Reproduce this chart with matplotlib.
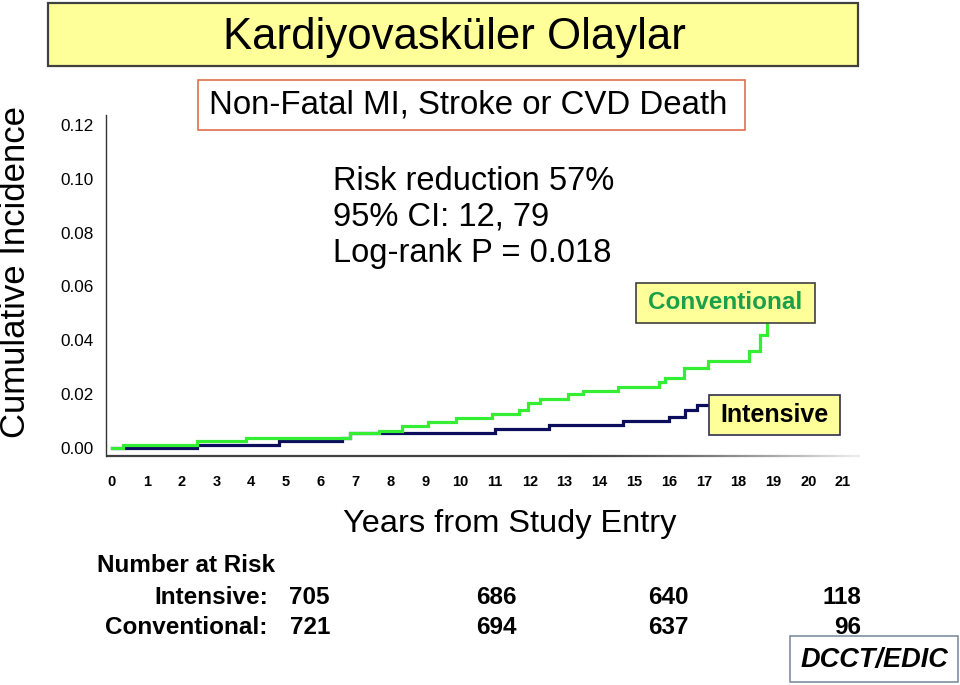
import numpy as np
import matplotlib.pyplot as plt
from matplotlib.patches import Rectangle
from matplotlib.collections import LineCollection

plt.rcParams["font.family"] = ["Liberation Sans", "DejaVu Sans"]

# step curves (years, cumulative incidence)
conv_t = [0, 0.33, 2.43, 3.84, 6.84, 7.68, 8.32, 9.09, 9.87, 10.91, 11.68, 11.96,
          12.3, 13.11, 13.54, 14.55, 15.7, 15.89, 16.42, 17.13, 18.31, 18.62, 18.81]
conv_v = [0, 0.0011, 0.0026, 0.0037, 0.0055, 0.0064, 0.0082, 0.0098, 0.011, 0.0126,
          0.0141, 0.0168, 0.0182, 0.0199, 0.0212, 0.0228, 0.0244, 0.0261, 0.0296,
          0.0324, 0.0362, 0.042, 0.05]

int_t = [0, 2.43, 4.8, 6.6, 6.84, 11.0, 12.54, 14.67, 15.99, 16.47, 16.8, 17.18]
int_v = [0, 0.001, 0.0026, 0.0036, 0.0054, 0.0069, 0.0084, 0.01, 0.0117, 0.0141,
         0.016, 0.0185]

yticks = [0.00, 0.02, 0.04, 0.06, 0.08, 0.10, 0.12]
xticks = list(range(0, 22))

risk_intensive = [705, 686, 640, 118]
risk_conventional = [721, 694, 637, 96]

stats_text = "Risk reduction 57%\n95% CI: 12, 79\nLog-rank P = 0.018"

W, H = 960, 685


def fx(x):
    return x / W


def fy(y):
    return 1 - y / H


def box(fig, x0, y0, x1, y1, fc, ec, lw=1.0, z=2):
    r = Rectangle((fx(x0), fy(y1)), fx(x1) - fx(x0), fy(y0) - fy(y1),
                  transform=fig.transFigure, facecolor=fc, edgecolor=ec,
                  linewidth=lw, zorder=z)
    fig.add_artist(r)


fig = plt.figure(figsize=(9.6, 6.85), dpi=100)
ax = fig.add_axes([fx(106), fy(456), fx(860) - fx(106), fy(115) - fy(456)])

ax.plot(int_t, int_v, drawstyle="steps-post", color="#0d0d5e", lw=2.3,
        solid_joinstyle="miter")
ax.plot(conv_t, conv_v, drawstyle="steps-post", color="#33ee33", lw=2.3,
        solid_joinstyle="miter")

ax.set_xlim(-6 / 34.81, 748 / 34.81)
ax.set_ylim(-8 / 2692, 333 / 2692)
ax.set_xticks(xticks)
ax.set_xticklabels([str(t) for t in xticks], fontsize=10.5, fontweight="bold")
ax.set_yticks(yticks)
ax.set_yticklabels(["%.2f" % v for v in yticks], fontsize=12.3)
ax.tick_params(axis="x", length=0, pad=13.5)
ax.tick_params(axis="y", length=0, pad=9)

for s in ["top", "right", "bottom"]:
    ax.spines[s].set_visible(False)
ax.spines["left"].set_color("#333333")
ax.spines["left"].set_linewidth(1.0)

# fading bottom axis line
n = 200
xs = np.linspace(0, 1, n + 1)
segs = [[(xs[i], 0), (xs[i + 1], 0)] for i in range(n)]
shade = np.clip(0.25 + 0.7 * np.maximum(0, (xs[:-1] - 0.6) / 0.4) ** 1.5, 0, 0.92)
lc = LineCollection(segs, colors=[(s, s, s) for s in shade], linewidths=1.6,
                    transform=ax.transAxes, clip_on=False)
ax.add_collection(lc)

# title boxes
box(fig, 48, 3, 858, 66, "#ffff99", "#404040", lw=1.6)
fig.text(fx(454), fy(37), "Kardiyovasküler Olaylar", fontsize=31.5,
         ha="center", va="center", zorder=3)
box(fig, 198, 80, 745, 130, "white", "#e0704f", lw=1.2)
fig.text(fx(468), fy(105), "Non-Fatal MI, Stroke or CVD Death", fontsize=23.8,
         ha="center", va="center", zorder=3)

fig.text(fx(333), fy(166), stats_text, fontsize=23.5, ha="left", va="top",
         linespacing=1.2)

fig.text(fx(16), fy(272), "Cumulative Incidence", fontsize=25, rotation=90,
         ha="center", va="center")
fig.text(fx(510), fy(524), "Years from Study Entry", fontsize=23.4,
         ha="center", va="center")

# curve labels
box(fig, 636, 283, 815, 323, "#ffff99", "#404040", lw=1.2)
fig.text(fx(725), fy(303), "Conventional", fontsize=17.5, fontweight="bold",
         color="#1aa04a", ha="center", va="center", zorder=3)
box(fig, 709, 395, 840, 435, "#ffff99", "#303050", lw=1.2)
fig.text(fx(774), fy(415), "Intensive", fontsize=18, fontweight="bold",
         color="black", ha="center", va="center", zorder=3)

# number at risk table
fig.text(fx(97), fy(566), "Number at Risk", fontsize=17.5, fontweight="bold",
         ha="left", va="center")
fig.text(fx(268), fy(597), "Intensive:", fontsize=17.5, fontweight="bold",
         ha="right", va="center")
fig.text(fx(268), fy(627), "Conventional:", fontsize=17.5, fontweight="bold",
         ha="right", va="center")
col_right = [330, 517, 689, 861]
for xr, a, b in zip(col_right, risk_intensive, risk_conventional):
    fig.text(fx(xr), fy(597), str(a), fontsize=17.5, fontweight="bold",
             ha="right", va="center")
    fig.text(fx(xr), fy(627), str(b), fontsize=17.5, fontweight="bold",
             ha="right", va="center")

box(fig, 790, 636, 958, 682, "white", "#7f8fa0", lw=1.2)
fig.text(fx(874), fy(660), "DCCT/EDIC", fontsize=19.5, fontweight="bold",
         fontstyle="italic", ha="center", va="center", zorder=3)

fig.savefig("out.png", dpi=100)
